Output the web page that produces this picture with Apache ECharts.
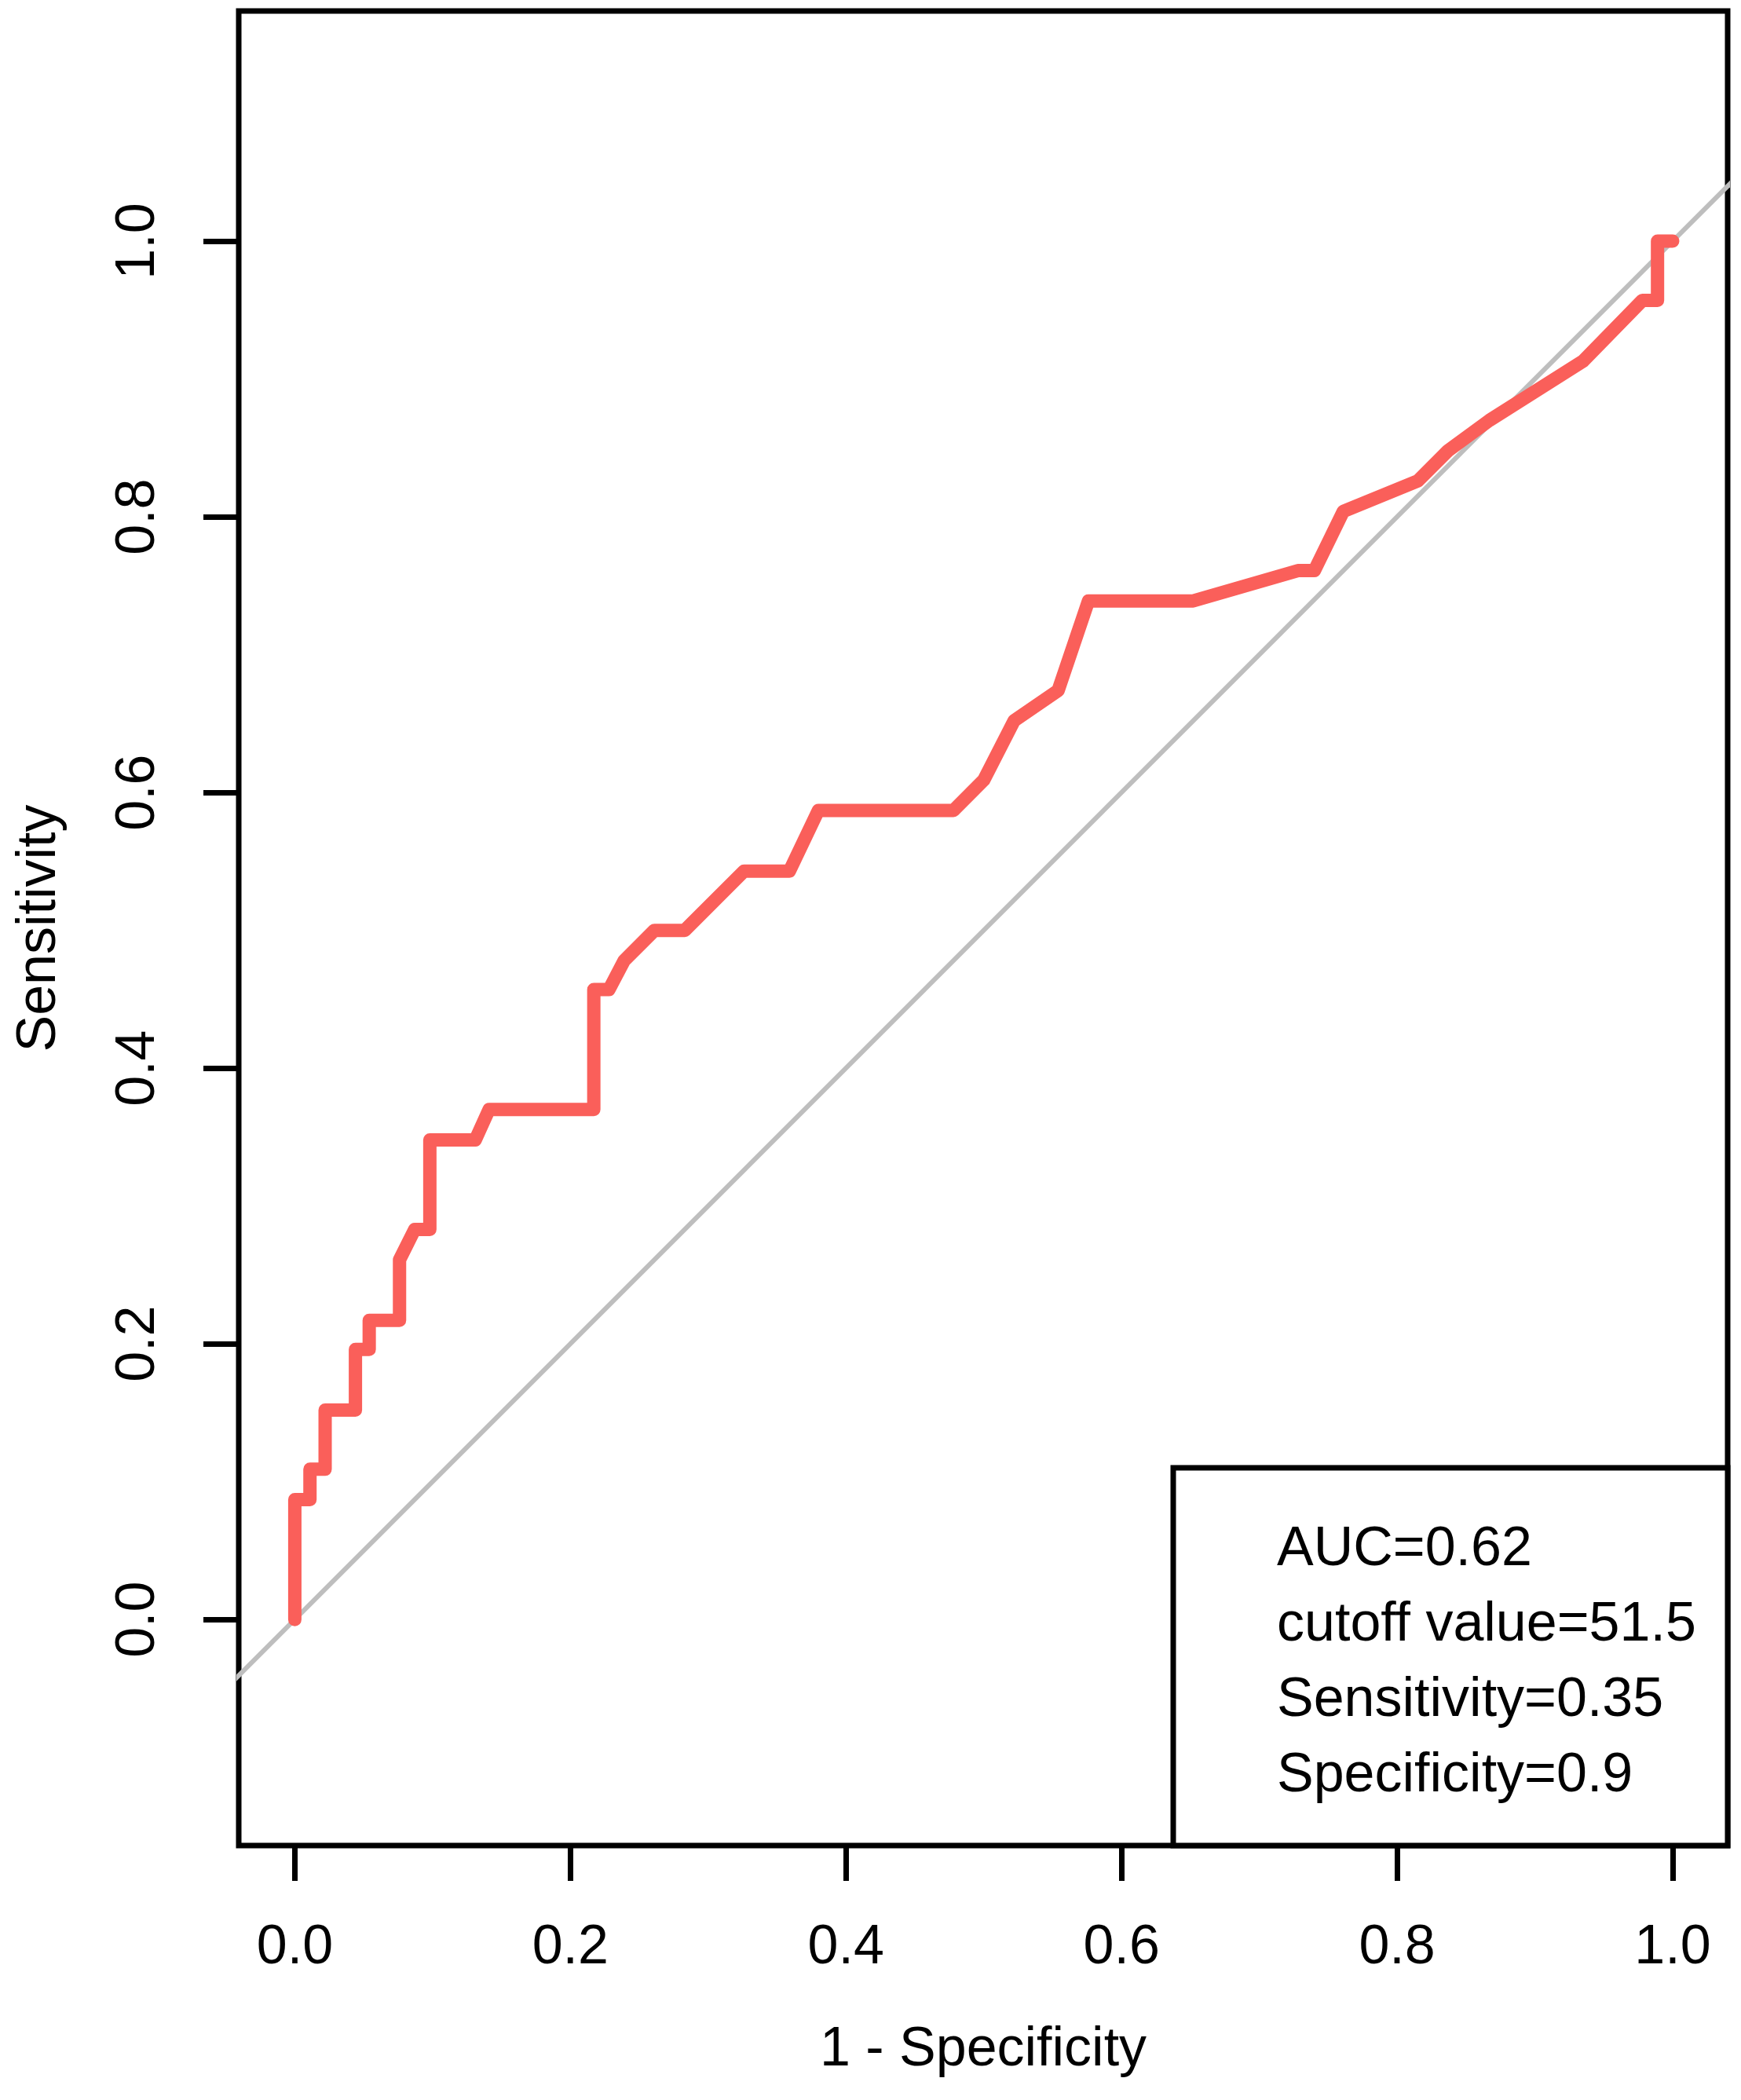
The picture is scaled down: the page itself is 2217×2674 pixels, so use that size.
<!DOCTYPE html>
<html>
<head>
<meta charset="utf-8">
<script src="https://cdn.jsdelivr.net/npm/echarts@6/dist/echarts.min.js"></script>
<style>
  html, body { margin: 0; padding: 0; background: #fff; }
  #roc { width: 2217px; height: 2674px; }
</style>
</head>
<body>
<div id="roc"></div>
<script>
// ROC curve (1 - specificity, sensitivity)
const fpr = [0, 0, 0.011, 0.011, 0.022, 0.022, 0.044, 0.044, 0.054, 0.054, 0.076, 0.076, 0.087, 0.098, 0.098,
  0.131, 0.141, 0.217, 0.217, 0.228, 0.239, 0.261, 0.283, 0.326, 0.359, 0.380, 0.478, 0.500, 0.522, 0.554,
  0.576, 0.652, 0.728, 0.740, 0.761, 0.815, 0.837, 0.867, 0.935, 0.978, 0.989, 0.989, 1.0];
const tpr = [0, 0.087, 0.087, 0.109, 0.109, 0.152, 0.152, 0.196, 0.196, 0.217, 0.217, 0.261, 0.283, 0.283, 0.348,
  0.348, 0.370, 0.370, 0.457, 0.457, 0.478, 0.500, 0.500, 0.543, 0.543, 0.587, 0.587, 0.609, 0.652, 0.674,
  0.739, 0.739, 0.761, 0.761, 0.804, 0.826, 0.848, 0.870, 0.913, 0.957, 0.957, 1.0, 1.0];

// reference diagonal (chance line)
const diagX = [-0.1, 1.1];
const diagY = [-0.1, 1.1];

const xTicks = [0, 0.2, 0.4, 0.6, 0.8, 1.0];
const yTicks = [0, 0.2, 0.4, 0.6, 0.8, 1.0];

const legendLines = ['AUC=0.62', 'cutoff value=51.5', 'Sensitivity=0.35', 'Specificity=0.9'];

const FONT = 'Liberation Sans, Arial, sans-serif';

const chart = echarts.init(document.getElementById('roc'));

const rocData = fpr.map((x, i) => [x, tpr[i]]);
const diagData = diagX.map((x, i) => [x, diagY[i]]);

const option = {
  backgroundColor: '#fff',
  animation: false,
  grid: {
    left: 304,
    right: 17,
    top: 14,
    bottom: 324,
    show: true,
    borderColor: '#000',
    borderWidth: 7,
    backgroundColor: 'transparent'
  },
  xAxis: {
    type: 'value',
    min: -0.0407,
    max: 1.0399,
    axisLine: { show: false, onZero: false },
    splitLine: { show: false },
    axisTick: {
      show: true,
      customValues: xTicks,
      length: 45,
      lineStyle: { color: '#000', width: 7 }
    },
    axisLabel: {
      customValues: xTicks,
      formatter: v => v.toFixed(1),
      fontSize: 70,
      fontFamily: FONT,
      color: '#000',
      margin: 96
    },
    name: '1 - Specificity',
    nameLocation: 'middle',
    nameGap: 226,
    nameTextStyle: { fontSize: 70, fontFamily: FONT, color: '#000' }
  },
  yAxis: {
    type: 'value',
    min: -0.164,
    max: 1.167,
    axisLine: { show: false, onZero: false },
    splitLine: { show: false },
    axisTick: {
      show: true,
      customValues: yTicks,
      length: 45,
      lineStyle: { color: '#000', width: 7 }
    },
    axisLabel: {
      customValues: yTicks,
      formatter: v => v.toFixed(1),
      rotate: 90,
      fontSize: 70,
      fontFamily: FONT,
      color: '#000',
      margin: 92
    },
    name: 'Sensitivity',
    nameLocation: 'middle',
    nameRotate: 90,
    nameGap: 218,
    nameTextStyle: { fontSize: 70, fontFamily: FONT, color: '#000' }
  },
  series: [
    {
      type: 'line',
      data: diagData,
      symbol: 'none',
      clip: true,
      lineStyle: { color: '#bebebe', width: 6 },
      silent: true
    },
    {
      type: 'line',
      data: rocData,
      symbol: 'none',
      clip: true,
      lineStyle: { color: '#fa5f5a', width: 17, cap: 'round', join: 'round' }
    }
  ],
  graphic: [
    {
      type: 'rect',
      left: 1494 - 3.5,
      top: 1869 - 3.5,
      z: 10,
      shape: { width: 706, height: 481 },
      style: { fill: '#fff', stroke: '#000', lineWidth: 7 }
    }
  ].concat(legendLines.map((t, i) => ({
    type: 'text',
    x: 1626,
    y: 1974 + i * 96,
    z: 11,
    style: {
      text: t,
      fontSize: 70,
      fontFamily: FONT,
      fill: '#000',
      verticalAlign: 'middle'
    }
  })))
};

chart.setOption(option);
</script>
</body>
</html>
